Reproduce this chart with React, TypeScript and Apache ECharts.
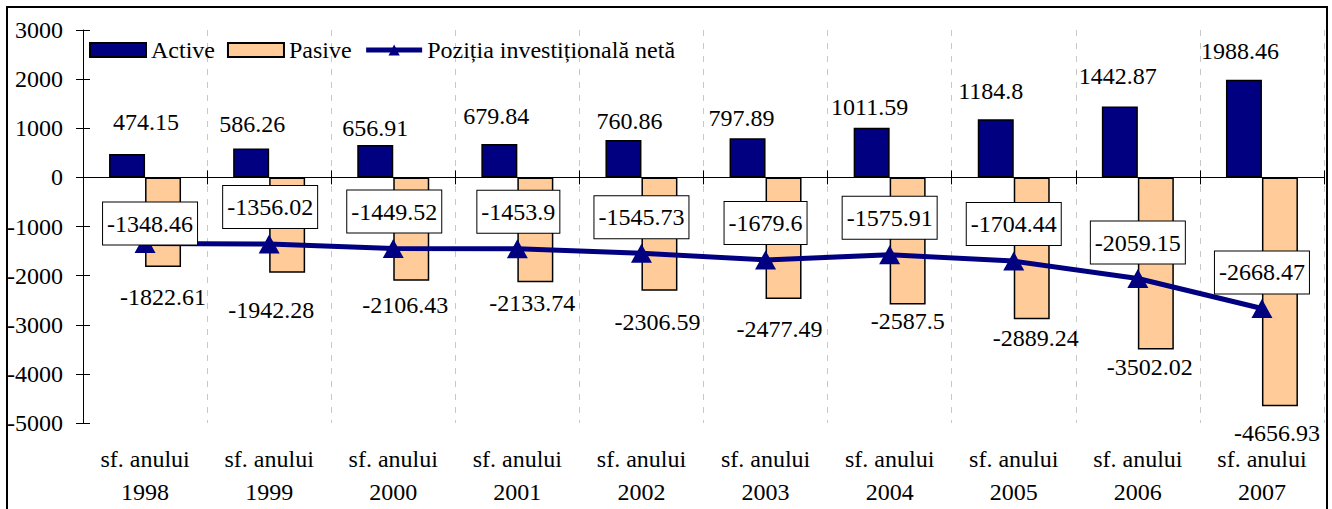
import React, { useEffect, useRef } from "react";
import * as echarts from "echarts";

const categories = [
  "sf. anului\n1998",
  "sf. anului\n1999",
  "sf. anului\n2000",
  "sf. anului\n2001",
  "sf. anului\n2002",
  "sf. anului\n2003",
  "sf. anului\n2004",
  "sf. anului\n2005",
  "sf. anului\n2006",
  "sf. anului\n2007",
];
const activeValues = [474.15, 586.26, 656.91, 679.84, 760.86, 797.89, 1011.59, 1184.8, 1442.87, 1988.46];
const pasiveValues = [-1822.61, -1942.28, -2106.43, -2133.74, -2306.59, -2477.49, -2587.5, -2889.24, -3502.02, -4656.93];
const netValues = [-1348.46, -1356.02, -1449.52, -1453.9, -1545.73, -1679.6, -1575.91, -1704.44, -2059.15, -2668.47];
const yTicks = { min: -5000, max: 3000, interval: 1000 };

// label nudges (pixels) to follow the manually placed labels of the original
const activeLabelOffsets = [[19, -20], [1, -13], [0, -5], [-3, -16], [6, -7], [-6, -8], [-2, -9], [-5, -16], [-2, -18], [-4, -17]];
const pasiveLabelOffsets = [[0, 20], [-16, 27], [-6, 14], [-3, 11], [-2, 21], [-4, 20], [0, 7], [4, 9], [-6, 8], [-3, 17]];
const netLabelOffsets = [[5, -20], [1, -37], [1, -37], [1, -37], [0, -36], [0, -37], [0, -37], [0, -37], [0, -36], [0, -36]];

const FONT = "Liberation Serif";
const FS = 24;

export default function App() {
  const ref = useRef<HTMLDivElement>(null);
  useEffect(() => {
    if (!ref.current) return;
    const chart = echarts.init(ref.current, undefined, { renderer: "svg" });
    const textBase = { fontFamily: FONT, fontSize: FS, color: "#000" };
    const option: any = {
      animation: false,
      backgroundColor: "#fff",
      textStyle: { fontFamily: FONT, fontSize: FS },
      grid: { left: 83, right: 8, top: 30, bottom: 86, containLabel: false },
      legend: {
        left: 89,
        top: 38,
        padding: 0,
        itemWidth: 56,
        itemHeight: 14,
        itemGap: 12,
        textStyle: { ...textBase },
        data: [
          { name: "Active", icon: "rect" },
          { name: "Pasive", icon: "rect" },
          {
            name: "Poziția investițională netă",
            lineStyle: { width: 5, color: "#000080" },
          },
        ],
      },
      graphic: [
        {
          type: "rect",
          shape: { x: 7, y: 7, width: 1320, height: 520 },
          style: { fill: "none", stroke: "#000", lineWidth: 2 },
          silent: true,
          z: 100,
        },
      ],
      xAxis: [
        {
          type: "category",
          data: categories,
          position: "bottom",
          axisLine: { show: false, onZero: false },
          axisTick: { show: false },
          axisLabel: { ...textBase, interval: 0, margin: 19, lineHeight: 33 },
          splitLine: {
            show: true,
            interval: 0,
            lineStyle: { color: "#c8c8c8", type: [6, 7], width: 1 },
          },
        },
        {
          type: "category",
          data: categories,
          position: "bottom",
          axisLine: { show: true, onZero: true, lineStyle: { color: "#000", width: 1 } },
          axisTick: { show: true, interval: 0, length: 7, lineStyle: { color: "#000" } },
          axisLabel: { show: false },
          splitLine: { show: false },
        },
        {
          type: "category",
          data: categories,
          position: "top",
          axisLine: { show: true, onZero: true, lineStyle: { color: "#000", width: 1 } },
          axisTick: { show: true, interval: 0, length: 7, lineStyle: { color: "#000" } },
          axisLabel: { show: false },
          splitLine: { show: false },
        },
      ],
      yAxis: [
        {
          type: "value",
          position: "left",
          min: yTicks.min,
          max: yTicks.max,
          interval: yTicks.interval,
          axisLine: { show: true, lineStyle: { color: "#000", width: 1 } },
          axisTick: { show: true, length: 7, lineStyle: { color: "#000" } },
          axisLabel: { ...textBase, margin: 20, formatter: (v: number) => String(v) },
          splitLine: { show: false },
        },
        {
          type: "value",
          position: "left",
          min: yTicks.min,
          max: yTicks.max,
          interval: yTicks.interval,
          axisLine: { show: false },
          axisTick: { show: true, inside: true, length: 7, lineStyle: { color: "#000" } },
          axisLabel: { show: false },
          splitLine: { show: false },
        },
      ],
      series: [
        {
          name: "Active",
          type: "bar",
          xAxisIndex: 0,
          yAxisIndex: 0,
          barGap: "0%",
          barCategoryGap: "42%",
          itemStyle: { color: "#000080", borderColor: "#000", borderWidth: 1.5 },
          label: {
            show: true,
            position: "top",
            distance: 0,
            ...textBase,
            lineHeight: 24,
          },
          data: activeValues.map((v, i) => ({ value: v, label: { offset: activeLabelOffsets[i] } })),
          z: 2,
        },
        {
          name: "Pasive",
          type: "bar",
          xAxisIndex: 0,
          yAxisIndex: 0,
          barGap: "0%",
          barCategoryGap: "42%",
          itemStyle: { color: "#FFCC99", borderColor: "#000", borderWidth: 1.5 },
          label: {
            show: true,
            position: "bottom",
            distance: 0,
            ...textBase,
            lineHeight: 20,
          },
          data: pasiveValues.map((v, i) => ({ value: v, label: { offset: pasiveLabelOffsets[i] } })),
          z: 2,
        },
        {
          name: "Poziția investițională netă",
          type: "line",
          xAxisIndex: 0,
          yAxisIndex: 0,
          symbol: "triangle",
          symbolSize: [21, 19],
          itemStyle: { color: "#000080" },
          lineStyle: { color: "#000080", width: 5 },
          label: {
            show: true,
            position: "inside",
            ...textBase,
            lineHeight: 26,
            backgroundColor: "#fff",
            borderColor: "#000",
            borderWidth: 1,
            padding: [8, 4, 8, 4],
          },
          data: netValues.map((v, i) => ({ value: v, label: { offset: netLabelOffsets[i] } })),
          z: 5,
        },
      ],
    };
    chart.setOption(option);
    return () => chart.dispose();
  }, []);
  return (
    <div
      ref={ref}
      style={{ position: "fixed", left: 0, top: 0, width: 1332, height: 509, background: "#fff" }}
    />
  );
}
